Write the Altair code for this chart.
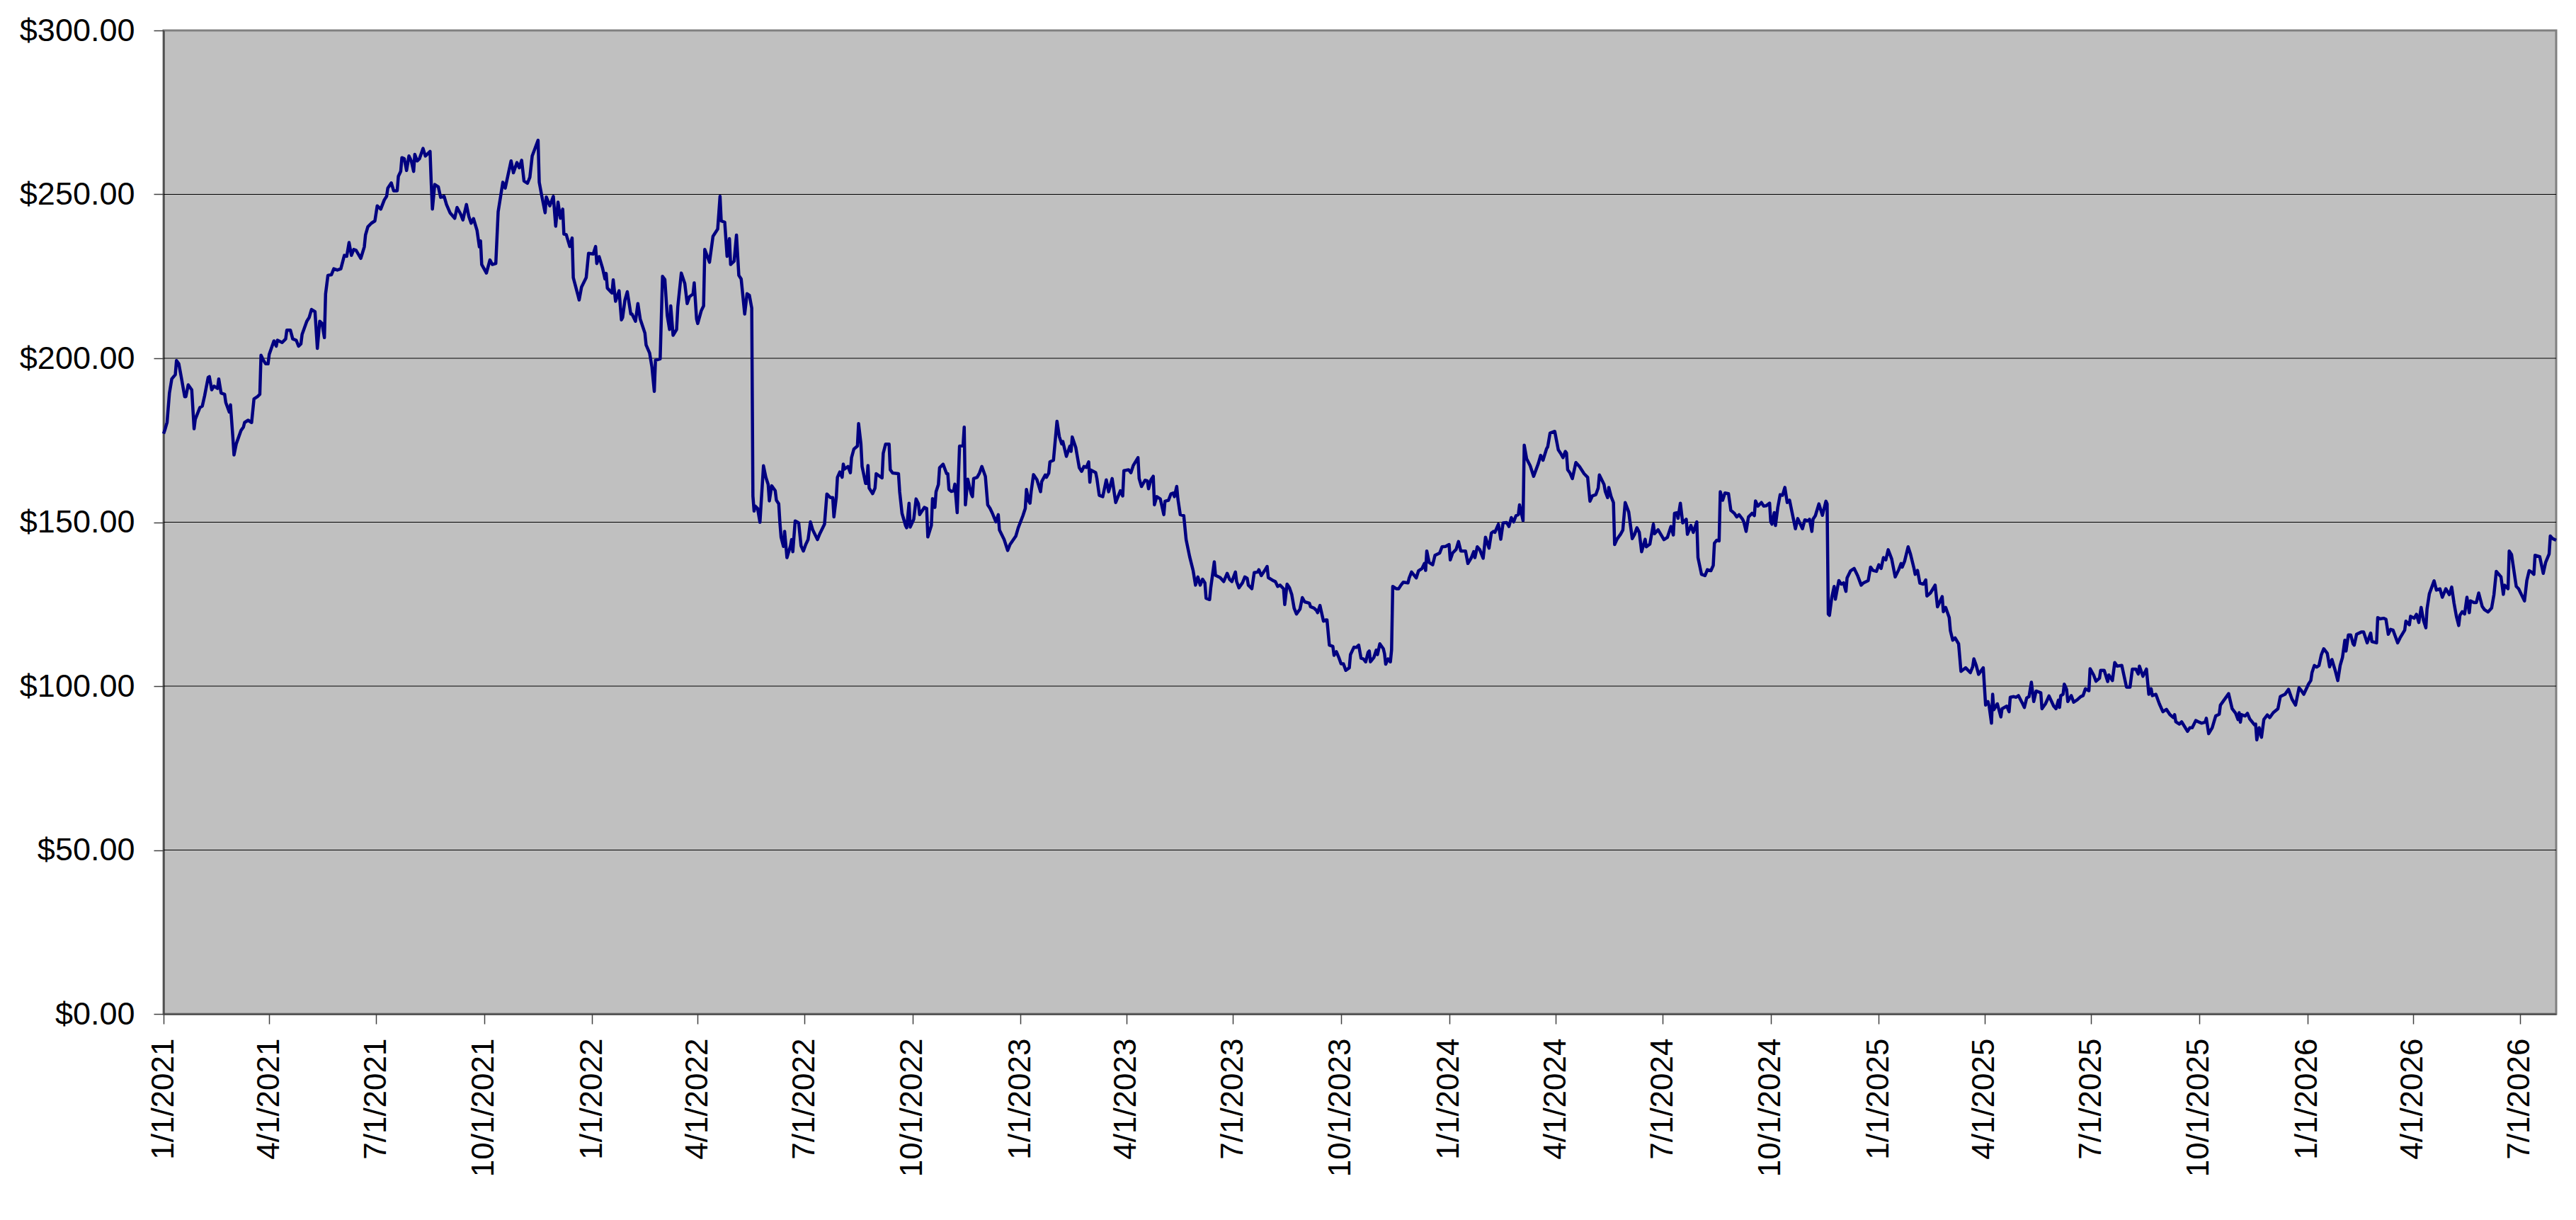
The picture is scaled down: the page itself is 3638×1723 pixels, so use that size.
import altair as alt
import pandas as pd

# (day offset from 1/1/2021, price) pairs, by period
seg_2021_h1 = [(0,177),(1,178),(3,180.5),(5,189.4),(7,193.7),(10,195),(11,199.3),(13,198.3),(15,194.4),(18,188.3),(19,188.3),(21,191.9),(24,190.4),(26,178.5),(27,181.4),(31,185),(33,185.4),(35,188.6),(38,194.2),(39,194.4),(41,190.4),(43,191.5),(46,190.8),(47,193.7),(49,189.4),(52,189),(53,186.5),(56,183.6),(57,185.8),(59,176),(60,170.5),(62,174),(64,176),(66,178),(68,179),(69,180.4),(72,181.1),(75,180.4),(77,187.6),(80,188.3),(82,189),(83,200.9),(85,199.4),(87,198.3),(89,198.3),(90,201.2),(94,205.3),(96,203.7),(97,205.5),(101,204.8),(104,205.9),(105,208.6),(108,208.6),(110,205.9),(113,205.5),(115,203.7),(117,204.4),(118,207.3),(122,211.3),(124,212.4),(126,214.9),(129,214.2),(131,203),(133,211.3),(135,210.6),(137,206.3),(138,219.6),(140,225.3),(143,225.5),(145,227.3),(148,226.9),(151,227.3),(154,231.4),(156,231.1),(158,235.3),(160,231.4),(162,233.2),(164,232.9),(168,230.5),(171,234),(172,237.6),(174,240.1),(177,241.2)]
seg_2021_h2 = [(180,241.9),(182,246.5),(185,245.5),(188,248.3),(190,249.4),(191,251.9),(194,253.5),(196,251.1),(199,251.1),(200,255.5),(202,257),(203,261.2),(205,260.9),(207,257.3),(209,261.7),(211,260.2),(213,257),(214,262.2),(216,260.2),(218,260.9),(221,264),(223,261.7),(227,263.1),(228,253.4),(229,245.5),(231,253),(234,252.3),(236,249.1),(239,249.4),(241,246.9),(244,244.4),(248,242.7),(250,246),(253,244),(255,242.2),(258,246.9),(260,243.3),(262,241.2),(264,242.6),(267,239),(269,234),(270,235.8),(271,228.6),(275,226),(278,230),(280,228.6),(283,228.9),(285,244.7),(289,253.7),(291,251.9),(296,260.2),(298,256.6),(301,259.7),(303,258.1),(305,260.4),(307,254.1),(310,253.4),(312,255.2),(314,261.7),(319,266.5),(320,253.7),(322,249.8),(325,244.4),(326,249.2),(329,246.5),(332,249.4),(334,240.3),(336,247.6),(338,242.7),(340,245.5),(341,237.9),(343,237.7),(346,234.1),(348,236.7),(349,224.6),(353,219.2),(354,217.8),(356,221.7),(360,224.6),(362,232)]
seg_2022_h1 = [(366,231.8),(368,234.1),(369,228.9),(371,231),(374,227.4),(376,224.2),(377,225.9),(378,221.4),(382,219.9),(383,223.9),(385,217.4),(388,220.6),(390,211.7),(391,212.4),(393,217.8),(395,220.3),(398,213.5),(399,213.5),(402,211.3),(404,216.7),(406,212),(410,207.7),(411,204.1),(414,201.6),(416,197.3),(418,189.9),(419,199.4),(423,199.8),(425,225),(427,224),(429,213.1),(431,208.8),(432,216),(434,207),(437,208.8),(438,215.6),(441,226),(444,222.8),(446,216.7),(448,218.8),(451,219.6),(452,223),(454,212),(455,210.6),(458,214.5),(460,216),(461,233.2),(465,229.3),(468,237.2),(472,239.4),(474,249.4),(475,241.9),(478,241.5),(480,231.1),(482,236.5),(483,228.6),(486,229.6),(488,237.6),(490,225.3),(492,224.2),(495,213.5),(497,219.7),(499,219.2),(501,215.3),(502,158),(503,153.4),(504,154.9),(506,154.2),(508,150),(511,167.2),(513,163.7),(515,161.5),(516,156.5),(518,161.1),(521,159.6),(522,156.7),(524,155.6),(525,149.8),(526,145.4),(528,142.6),(529,147.2),(531,139.2),(534,142.8),(535,144.7),(536,141),(538,150.4),(541,149.8),(543,142.8)]
seg_2022_h2 = [(545,141.2),(547,143.2),(549,144.7),(551,150.1),(553,147.6),(557,144.7),(559,146.5),(563,149.4),(565,158.6),(568,157.5),(570,157.5),(571,151.6),(573,157.5),(574,163.7),(576,165.3),(578,163.7),(579,167.7),(580,166.2),(583,167),(585,165.1),(586,169.7),(588,172.3),(591,173.2),(592,180.1),(594,173.9),(595,167),(598,161.8),(599,161.8),(600,167.3),(601,160.4),(604,158.7),(606,160.4),(607,164.8),(612,163.5),(613,171),(615,173.8),(618,173.8),(619,166),(621,165),(626,164.8),(627,159.3),(629,152.7),(632,149),(633,148.3),(635,155.8),(636,148.5),(639,150.9),(641,157.1),(643,155.6),(644,152.3),(648,154.5),(650,154.2),(651,145.5),(654,149),(655,157.2),(657,154.5),(658,159.3),(660,161.5),(661,166.6),(664,167.7),(667,164.8),(668,164.8),(669,160),(671,159.4),(673,159.6),(674,161.6),(676,152.9),(678,173.2),(681,173.3),(682,179),(683,155.3),(685,163.1),(688,158.6),(689,157.8),(690,163.3),(693,163.7),(695,165),(697,167),(700,164),(702,155.3),(704,154.2),(706,152.7),(709,150.1),(711,152.3),(712,147.6),(716,144.7),(719,141.4),(721,143.2),(726,145.8)]
seg_2023_h1 = [(728,148.3),(732,152),(734,154.2),(735,160),(737,156.4),(738,155.8),(739,159.3),(741,164.5),(744,162.9),(747,159.3),(748,162.4),(751,164.4),(752,163.7),(754,165),(755,168.4),(758,168.9),(761,180.8),(763,176.1),(765,173.9),(766,174.6),(768,171.6),(769,170.1),(772,173.2),(773,171.6),(774,176),(777,172.8),(780,166.6),(782,165.5),(784,167),(786,166.7),(788,168.4),(789,162.2),(790,165.9),(794,165.1),(795,163.3),(797,158.2),(800,157.8),(803,162.9),(805,159.3),(808,163.3),(811,156),(813,157.8),(815,159.6),(817,158),(818,165.7),(822,166),(824,165.1),(826,167.3),(830,169.7),(831,163.3),(833,160.9),(836,162.8),(838,162.6),(839,160.2),(841,162.9),(843,164),(844,155.3),(846,157.8),(849,157.1),(852,152.3),(853,156.4),(856,156.7),(858,158.6),(860,158.9),(861,157.8),(863,160.9),(864,157.1),(866,152.3),(869,152),(871,144.7),(874,139.5),(877,135.2),(879,130.8),(881,133.3),(883,130.8),(885,132.6),(887,131.5),(888,126.8),(891,126.4),(892,130),(895,137.9),(896,133.8),(900,133.1),(903,131.9),(906,134.4)]
seg_2023_h2 = [(908,132.6),(910,131.9),(913,134.8),(914,131.9),(916,130),(919,131.5),(921,133.3),(923,132.9),(924,130.8),(927,129.7),(929,134.6),(932,134.8),(933,135.5),(935,133.7),(938,135.3),(940,136.5),(941,133.1),(945,132.2),(947,131.9),(949,130.4),(951,130.8),(954,129.7),(955,124.9),(957,131.1),(959,130),(961,127.9),(963,123.8),(965,122),(968,123.5),(970,127),(972,125.7),(976,125.3),(977,124.2),(980,123.8),(982,123.1),(983,122.4),(985,124.6),(988,119.8),(990,120.2),(991,120.2),(993,112.5),(996,112.1),(997,109.4),(999,110.5),(1001,108.8),(1003,106.8),(1005,106.8),(1007,104.8),(1010,105.6),(1011,109.6),(1014,111.9),(1016,111.8),(1018,112.5),(1020,108.5),(1022,108.3),(1024,107.4),(1026,110.3),(1027,110.7),(1028,107.4),(1031,108.8),(1033,111),(1034,109.6),(1036,112.9),(1039,111.4),(1040,109.9),(1041,106.7),(1043,108.3),(1045,107.4),(1046,111),(1047,130.4),(1050,129.7),(1052,129.7),(1054,130.8),(1056,131.7),(1060,131.5),(1061,133),(1063,134.8),(1067,133),(1069,135.2),(1072,135.9),(1074,137.4),(1075,135.3),(1076,141.2),(1078,137.7),(1081,137),(1083,139.9),(1087,140.6)]
seg_2024_h1 = [(1089,142.5),(1092,142.6),(1095,143.2),(1096,138.5),(1098,140.6),(1101,141.7),(1103,144.1),(1105,141.2),(1109,141.2),(1111,137.4),(1114,139.2),(1116,141),(1117,139.2),(1119,142.5),(1121,141.7),(1124,139),(1126,145.4),(1129,142.1),(1131,146.7),(1133,147.2),(1134,146.9),(1137,149.4),(1139,144.8),(1141,149.8),(1144,149.9),(1146,148.7),(1148,151.4),(1150,150.1),(1152,152),(1154,152.3),(1155,155.3),(1158,150.5),(1159,173.5),(1161,169.4),(1164,167.3),(1167,164),(1171,167.9),(1173,170.4),(1175,168.9),(1178,172.4),(1179,173),(1181,177.2),(1185,177.7),(1188,172.1),(1190,171),(1192,169.7),(1194,171.6),(1195,171.1),(1196,166),(1198,165),(1200,163.3),(1203,168.2),(1206,167),(1210,164.8),(1213,163.7),(1215,156.4),(1217,158),(1220,158.4),(1222,160.4),(1223,164.4),(1227,161.5),(1228,159.4),(1230,157.5),(1231,160.6),(1233,157.8),(1235,156),(1236,143.2),(1238,144.8),(1241,146.3),(1243,147.6),(1245,156),(1248,153.1),(1251,145),(1253,146.3),(1255,148.3),(1257,146.9),(1259,141),(1262,144.8),(1263,142.5),(1266,143.3),(1269,149.4)]
seg_2024_h2 = [(1270,146.5),(1273,147.7),(1278,144.7),(1281,145.4),(1284,148.7),(1286,146.1),(1287,152.7),(1289,152.9),(1290,151.2),(1292,155.8),(1294,149.8),(1297,150.9),(1298,146.3),(1301,149),(1303,146.9),(1306,150.1),(1307,139.2),(1310,134.1),(1313,133.7),(1315,135.5),(1318,135.2),(1320,136.8),(1321,143.6),(1323,144.5),(1325,144.3),(1326,159.3),(1328,156.7),(1330,158.9),(1333,158.7),(1335,153.6),(1338,152.7),(1340,151.6),(1342,152.3),(1345,150.9),(1346,150.1),(1348,147.2),(1350,151.6),(1353,152.7),(1355,152),(1356,156.5),(1358,154.9),(1361,156),(1363,154.9),(1365,155),(1368,155.8),(1369,150.1),(1370,149.4),(1372,152.9),(1373,149),(1375,154.5),(1377,158.4),(1379,158.2),(1381,160.6),(1383,156),(1385,156.7),(1390,148),(1392,151.1),(1396,148),(1398,150.7),(1401,150.4),(1402,150.9),(1404,147.2),(1405,150.9),(1407,152),(1410,155.6),(1413,152.1),(1416,156.4),(1417,155.6),(1418,122),(1419,121.6),(1421,127.1),(1423,130.4),(1424,126.5),(1427,132.2),(1429,131.1),(1431,131.5),(1433,128.9),(1434,133),(1437,135.2)]
seg_2025_h1 = [(1440,135.9),(1443,133.7),(1446,130.8),(1448,131.5),(1452,132.2),(1454,136.3),(1456,135.3),(1459,135),(1461,137),(1463,135.9),(1465,139.2),(1467,138.5),(1469,141.6),(1472,138.8),(1475,133.3),(1478,135.5),(1480,137.4),(1481,136.3),(1483,138.1),(1486,142.5),(1488,140.3),(1491,135.9),(1492,134.1),(1494,135.3),(1496,131.4),(1499,131.1),(1501,132.4),(1502,127.5),(1505,128.4),(1509,130.8),(1511,124.2),(1515,127.3),(1516,122.7),(1518,124),(1521,120.9),(1522,116.9),(1524,114),(1526,114.7),(1529,112.9),(1531,104.5),(1535,105.6),(1539,104.1),(1541,105.9),(1542,108.3),(1544,106.3),(1546,103.6),(1550,105.6),(1552,94.2),(1554,95.3),(1555,93.9),(1557,88.7),(1558,97.5),(1559,92.8),(1562,94.6),(1565,90.6),(1566,93.1),(1570,93.9),(1572,92.2),(1573,96.6),(1576,96.8),(1578,96.6),(1580,97.1),(1583,95),(1585,93.5),(1587,96.4),(1589,96.8),(1591,101.2),(1593,95.3),(1595,98.5),(1599,98),(1600,93.1),(1603,94.6),(1606,97),(1610,93.9),(1612,93.1),(1614,95.7),(1615,93.5),(1616,97.1),(1618,97.5),(1619,100.6),(1621,99),(1622,95.3),(1625,97.1),(1627,95.1),(1630,95.8)]
seg_2025_h2 = [(1633,96.8),(1635,97.1),(1637,99.2),(1640,98.6),(1641,105.3),(1644,103.4),(1646,101.5),(1649,102.4),(1650,104.8),(1653,104.8),(1656,101.4),(1657,103.4),(1660,101.7),(1662,107.2),(1664,106.1),(1668,106.3),(1670,103),(1672,99.7),(1675,99.7),(1677,105.2),(1680,105.2),(1682,103.7),(1683,106.1),(1686,103),(1689,105.2),(1691,97.5),(1693,99.2),(1694,97.1),(1697,97.5),(1700,94.6),(1703,92.2),(1706,92.9),(1709,91.3),(1712,90.4),(1713,91.3),(1714,89.1),(1717,88.4),(1719,89.1),(1724,86.2),(1726,87.3),(1728,87.3),(1731,89.5),(1734,89),(1736,88.7),(1739,89),(1740,90.2),(1742,85.5),(1745,87.3),(1748,90.9),(1751,91.4),(1752,94.2),(1759,97.7),(1762,93.1),(1765,91.7),(1767,89.8),(1768,91.9),(1769,89),(1770,91.3),(1773,90.9),(1775,91.7),(1777,90),(1781,88.2),(1782,88.4),(1783,83.6),(1785,87.3),(1787,84.4),(1789,89.8),(1792,91.2),(1794,90.4),(1797,91.9),(1801,93.1),(1803,96.8),(1807,97.5),(1810,99),(1813,96),(1816,94.2),(1819,99.5),(1821,98.6),(1823,97.5)]
seg_2026 = [(1827,100.6),(1829,101.7),(1830,104.1),(1832,106.3),(1834,105.8),(1836,106.3),(1838,109.6),(1840,111.4),(1843,110),(1845,105.9),(1847,108.1),(1850,104.5),(1852,101.7),(1854,106.3),(1856,108.8),(1858,114),(1859,110.7),(1861,115.6),(1863,115.6),(1865,112.9),(1866,112.5),(1868,115.8),(1872,116.5),(1874,116.5),(1877,113.2),(1880,116.2),(1881,113.6),(1885,113.2),(1886,120.9),(1888,120.5),(1891,120.7),(1893,120.4),(1895,115.8),(1897,117.3),(1899,117.1),(1903,113.2),(1905,114.7),(1909,117.1),(1910,119.8),(1913,118.7),(1914,121.3),(1917,120.7),(1919,121.9),(1921,119.4),(1923,124),(1925,120),(1927,117.8),(1928,123.5),(1930,128.2),(1934,132.1),(1936,129.3),(1939,129.7),(1941,127.1),(1944,129.7),(1947,127.9),(1949,130.2),(1951,125.3),(1953,121.3),(1955,118.5),(1956,121.6),(1958,122.7),(1960,122),(1962,127.1),(1964,122.4),(1965,126),(1968,125.5),(1970,125.5),(1972,128.4),(1975,124.3),(1977,123.3),(1980,122.6),(1983,123.8),(1985,127.9),(1987,135),(1991,133.3),(1993,128),(1994,130.8),(1997,129.7),(1998,141.2),(2000,140.1),(2004,130.4),(2006,129.7),(2011,126),(2013,132.2),(2015,135.2),(2017,134.8),(2019,134.1),(2020,139.9),(2024,139.5),(2027,134.4),(2029,137.7),(2032,140.3),(2033,145.8),(2035,145),(2038,144.5)]

segments = [seg_2021_h1, seg_2021_h2, seg_2022_h1, seg_2022_h2, seg_2023_h1, seg_2023_h2,
            seg_2024_h1, seg_2024_h2, seg_2025_h1, seg_2025_h2, seg_2026]

y_tick_values = [0, 50, 100, 150, 200, 250, 300]
grid_values = [50, 100, 150, 200, 250]
tick_quarters = [(y, m) for y in range(2021, 2027) for m in (1, 4, 7, 10) if (y, m) <= (2026, 7)]

base = pd.Timestamp("2021-01-01")
rows = []
idx = 0
for seg in segments:
    for d, v in seg:
        rows.append({"idx": idx, "date": (base + pd.Timedelta(days=d)).strftime("%Y-%m-%d"), "price": v})
        idx += 1
df = pd.DataFrame(rows)

x_ticks = [alt.DateTime(year=y, month=m, date=1, utc=True) for (y, m) in tick_quarters]
x_domain = [alt.DateTime(year=2021, month=1, date=1, utc=True),
            alt.DateTime(year=2026, month=8, date=1, utc=True)]
y_scale = alt.Scale(domain=[0, 300], nice=False, zero=True)
y_axis = alt.Axis(values=y_tick_values, format="$,.2f", labelFontSize=45,
                  tickSize=14, labelPadding=27, title=None, grid=False,
                  labelOverlap=False, labelFlush=False, labelLimit=600)

grid = alt.Chart(pd.DataFrame({"g": grid_values})).mark_rule(
    color="#000000", strokeWidth=1
).encode(
    y=alt.Y("g:Q", scale=y_scale, axis=y_axis)
)

line = alt.Chart(df).mark_line(color="#000080", strokeWidth=4.5, strokeJoin="round").encode(
    x=alt.X("date:T",
            scale=alt.Scale(type="utc", domain=x_domain, nice=False),
            axis=alt.Axis(values=x_ticks, format="%-m/%-d/%Y", labelAngle=270,
                          labelFontSize=44, tickSize=14, labelPadding=20, labelLimit=600,
                          title=None, labelOverlap=False, labelFlush=False, grid=False)),
    y=alt.Y("price:Q", scale=y_scale, axis=y_axis),
    order=alt.Order("idx:Q"),
)

chart = alt.layer(grid, line).properties(
    width=3379,
    height=1389,
    autosize=alt.AutoSizeParams(type="none"),
    padding={"left": 223, "top": 35, "right": 20, "bottom": 280},
).configure_view(
    fill="#C0C0C0", stroke="#808080", strokeWidth=3
).configure_axis(
    labelFont="Liberation Sans", labelColor="#000000",
    domainColor="#404040", domainWidth=2,
    tickColor="#404040", tickWidth=1.5,
)

chart.save("out.html", embed_options={"renderer": "svg", "actions": False})
